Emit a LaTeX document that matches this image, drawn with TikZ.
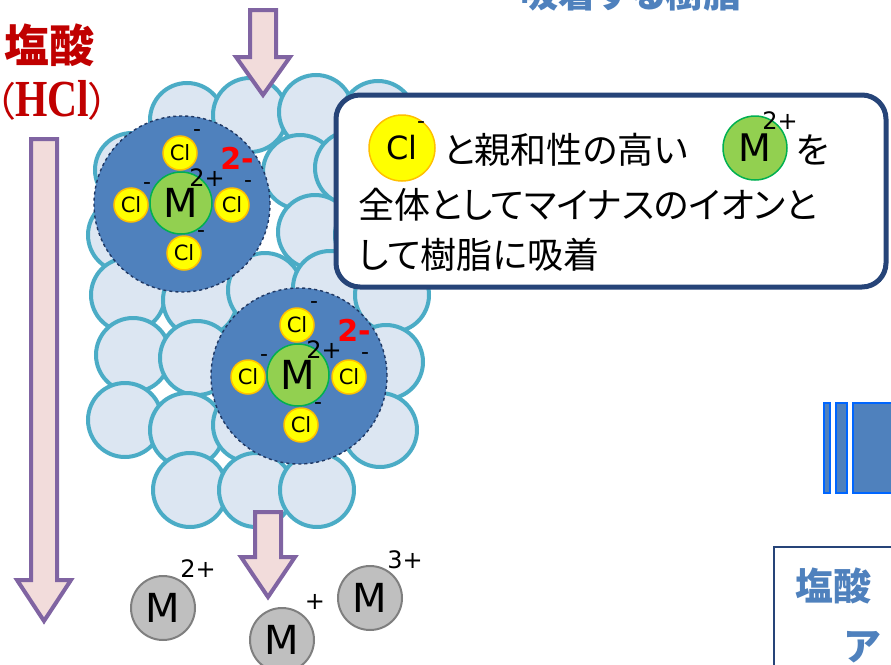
\documentclass[tikz,border=0pt]{standalone}
\usepackage{fontspec}
\setmainfont{DejaVu Sans}
\newfontfamily\jpfont{Noto Sans CJK JP}[RawFeature={+palt}]
\newfontfamily\hclfont{Liberation Serif}[FakeStretch=0.8]

\definecolor{beadfill}{HTML}{DCE6F2}
\definecolor{beadline}{HTML}{4BACC6}
\definecolor{complexfill}{HTML}{4F81BD}
\definecolor{complexline}{HTML}{1F3864}
\definecolor{metalfill}{HTML}{92D050}
\definecolor{metalline}{HTML}{00B050}
\definecolor{clfill}{HTML}{FFFF00}
\definecolor{clline}{HTML}{FFC000}
\definecolor{arrowfill}{HTML}{F2DCDB}
\definecolor{arrowline}{HTML}{8064A2}
\definecolor{acidred}{HTML}{C00000}
\definecolor{noteline}{HTML}{264478}
\definecolor{ionfill}{HTML}{BFBFBF}
\definecolor{ionline}{HTML}{7F7F7F}
\definecolor{titleblue}{HTML}{4F81BD}
\definecolor{barline}{HTML}{0066FF}

\tikzset{
  bead/.style={draw=beadline, fill=beadfill, line width=4pt},
  complexring/.style={draw=complexline, fill=complexfill, line width=1.4pt, dashed},
  metal/.style={circle, draw=metalline, fill=metalfill, line width=1.5pt,
    minimum size=62pt, inner sep=0pt, font=\fontsize{40}{40}\selectfont},
  chloride/.style={circle, draw=clline, fill=clfill, line width=1.5pt,
    minimum size=34pt, inner sep=0pt, font=\fontsize{21}{21}\selectfont},
  charge/.style={inner sep=0pt, font=\fontsize{22}{22}\selectfont},
  valence/.style={inner sep=0pt, font=\fontsize{24}{24}\selectfont},
  netcharge/.style={inner sep=0pt, text=red, font=\bfseries\fontsize{30}{30}\selectfont},
  freeion/.style={circle, draw=ionline, fill=ionfill, line width=2pt,
    minimum size=64pt, inner sep=0pt, font=\fontsize{40}{40}\selectfont},
  flowarrow/.style={draw=arrowline, fill=arrowfill, line width=4pt, line join=miter},
  notetext/.style={inner sep=0pt, font=\jpfont\fontsize{36}{36}\selectfont},
  bluehead/.style={inner sep=0pt, text=titleblue, font=\jpfont\bfseries\fontsize{38}{38}\selectfont},
  bar/.style={draw=barline, fill=complexfill, line width=2pt}
}

% MCl4 complex: #1 name, (#2,#3) centre of the metal
\newcommand\clcomplex[3]{%
  \begin{scope}[shift={(#2,#3)}]
    \draw[complexring] (1,1) circle (88pt);
    \node[metal] (#1m) at (0,0) {M};
    \node[chloride] (#1t) at (-1,-50) {Cl};
    \node[chloride] (#1l) at (-50,2) {Cl};
    \node[chloride] (#1r) at (51,2) {Cl};
    \node[chloride] (#1b) at (3,50) {Cl};
    \node[charge] (#1tq) at (16,-70) {-};
    \node[charge] (#1lq) at (-34,-17) {-};
    \node[charge] (#1rq) at (67,-19) {-};
    \node[charge] (#1bq) at (20,31) {-};
    \node[valence] (#1mq) at (26,-25) {2+};
    \node[netcharge] (#1n) at (56,-45) {2-};
  \end{scope}}

% block arrow pointing down: centre x, top, head base, tip
\newcommand\blockarrow[4]{%
  \draw[flowarrow] ({#1-13},#2) -- ({#1+13},#2) -- ({#1+13},#3) -- ({#1+27},#3)
    -- (#1,#4) -- ({#1-27},#3) -- ({#1-13},#3) -- cycle;}

\begin{document}
\begin{tikzpicture}[x=1pt, y=-1pt]
\useasboundingbox (0,0) rectangle (891,664);
\clip (0,0) rectangle (891,664);

% resin beads, upper rows first
\foreach \bx/\by in {187/120, 250/115, 316/112, 378/118,
    132/170, 300/172, 352/168, 398/178,
    125/235, 315/232, 372/235,
    128/295, 200/300, 265/290, 330/288, 392/295,
    133/355, 197/358, 386/362,
    125/420, 187/430, 250/425, 380/430,
    190/490, 256/490, 317/490}
  \draw[bead] (\bx,\by) circle (37pt);

% adsorbed complexes
\clcomplex{cxa}{181}{203}
\clcomplex{cxb}{298}{375}

% acid flow
\blockarrow{263}{10}{57}{95}
\blockarrow{44}{139}{580}{621}
\blockarrow{268}{512}{557}{597}

\node[inner sep=0pt, text=acidred, font=\jpfont\bfseries\fontsize{45}{45}\selectfont] (acid) at (50,45) {塩酸};
\node[inner sep=0pt, text=acidred, font=\fontsize{40}{40}\selectfont] (acidformula) at (52,100)
  {{\jpfont （}{\hclfont\bfseries\fontsize{52}{52}\selectfont HCl}{\jpfont ）}};

% metal ions passing through
\node[freeion] (ion2) at (163,608) {M};
\node[valence] (ion2q) at (198,569) {2+};
\node[freeion] (ion1) at (282,640) {M};
\node[valence] (ion1q) at (315,602) {+};
\node[freeion] (ion3) at (370,598) {M};
\node[valence] (ion3q) at (405,560) {3+};

% explanation box
\node[draw=noteline, fill=white, line width=5pt, rounded corners=24pt,
  minimum width=550pt, minimum height=192pt] (note) at (611,191) {};
\node[chloride, minimum size=66pt, font=\fontsize{32}{32}\selectfont] (noteCl) at (402,148) {Cl};
\node[charge] (noteClq) at (421,125) {-};
\node[notetext, anchor=base west] (line1) at (443,163) {と親和性の高い};
\node[metal, minimum size=64pt, font=\fontsize{38}{38}\selectfont] (noteM) at (755,148) {M};
\node[valence] (noteMq) at (780,121) {2+};
\node[notetext, anchor=base west] (line1b) at (796,163) {を};
\node[notetext, anchor=base west] (line2) at (358,218) {全体としてマイナスのイオンと};
\node[notetext, anchor=base west] (line3) at (358,268) {して樹脂に吸着};

% heading and side panels
\node[bluehead, anchor=base west] (resintitle) at (520,7) {吸着する樹脂};
\draw[bar] (824,403) rectangle (830,493);
\draw[bar] (836,403) rectangle (847,493);
\draw[bar] (853,403) rectangle (900,493);
\node[draw=noteline, line width=2pt, fill=white, anchor=north west,
  minimum width=200pt, minimum height=200pt] (acidbox) at (773,546) {};
\node[bluehead, anchor=base west] (acidline1) at (795,600) {塩酸};
\node[bluehead, anchor=base west] (acidline2) at (845,660) {ア};
\end{tikzpicture}
\end{document}
